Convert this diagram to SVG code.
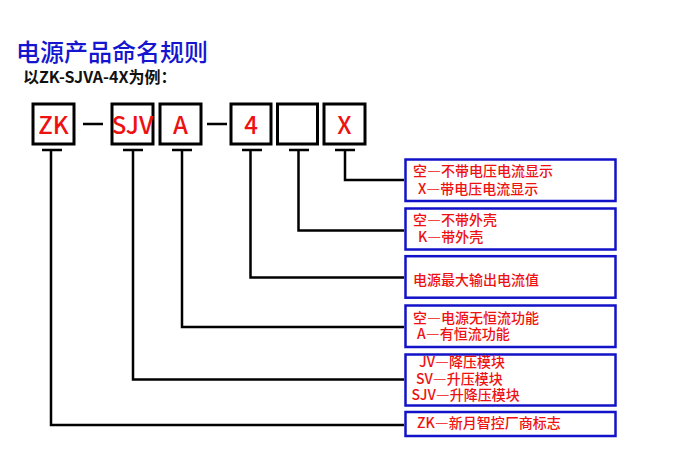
<svg xmlns="http://www.w3.org/2000/svg" width="682" height="462" viewBox="0 0 682 462" xml:lang="zh-CN" lang="zh-CN">
<style>
.t{font-family:"Noto Sans CJK SC","Noto Sans",sans-serif}
.title{font-size:24px;fill:#1515d0;font-weight:500}
.sub{font-size:16px;fill:#111;font-weight:bold}
.code{font-size:24px;fill:#ee1111;text-anchor:middle;font-weight:500}
.cb{fill:#fff;stroke:#000;stroke-width:3}
.db{fill:#fff;stroke:#1212c8;stroke-width:2.5}
.dt{font-size:14px;fill:#ee1111;font-weight:500}
.dash{font-feature-settings:"fwid"}
.ln{fill:none;stroke:#000;stroke-width:2.5}
</style>
<rect width="682" height="462" fill="#fff"/>
<text class="t title" x="16" y="61">电源产品命名规则</text>
<text class="t sub" x="23" y="83">以ZK-SJVA-4X为例：</text>

<g id="code-zk"><rect class="cb" x="33" y="104" width="41" height="40"/><text class="t code" x="53.5" y="134">ZK</text></g>
<g id="code-sjv"><rect class="cb" x="112" y="104" width="41" height="40"/><text class="t code" x="132.5" y="134">SJV</text></g>
<g id="code-a"><rect class="cb" x="160" y="104" width="41" height="40"/><text class="t code" x="180.5" y="134">A</text></g>
<g id="code-4"><rect class="cb" x="231" y="104" width="40" height="40"/><text class="t code" x="251" y="134">4</text></g>
<g id="code-empty"><rect class="cb" x="277.5" y="104" width="40" height="40"/></g>
<g id="code-x"><rect class="cb" x="324" y="104" width="41" height="40"/><text class="t code" x="344.5" y="134">X</text></g>

<g id="desc-x"><rect class="db" x="405.5" y="159.5" width="210" height="41.5"/><text class="t dt" x="413" y="175.5">空<tspan class="dash">—</tspan>不带电压电流显示</text><text class="t dt" x="418" y="193.5">X<tspan class="dash">—</tspan>带电压电流显示</text></g>
<g id="desc-k"><rect class="db" x="405.5" y="208.5" width="210" height="41"/><text class="t dt" x="413" y="224.5">空<tspan class="dash">—</tspan>不带外壳</text><text class="t dt" x="418" y="241.5">K<tspan class="dash">—</tspan>带外壳</text></g>
<g id="desc-4"><rect class="db" x="405.5" y="256.2" width="210" height="41.5"/><text class="t dt" x="413" y="284.5">电源最大输出电流值</text></g>
<g id="desc-a"><rect class="db" x="405.5" y="305.5" width="210" height="41.5"/><text class="t dt" x="413" y="322.5">空<tspan class="dash">—</tspan>电源无恒流功能</text><text class="t dt" x="417" y="339">A<tspan class="dash">—</tspan>有恒流功能</text></g>
<g id="desc-sjv"><rect class="db" x="405.5" y="354.5" width="210" height="51"/><text class="t dt" x="419" y="366.5">JV<tspan class="dash">—</tspan>降压模块</text><text class="t dt" x="416" y="383.5">SV<tspan class="dash">—</tspan>升压模块</text><text class="t dt" x="411.5" y="400">SJV<tspan class="dash">—</tspan>升降压模块</text></g>
<g id="desc-zk"><rect class="db" x="405.5" y="412" width="210" height="24"/><text class="t dt" x="417" y="428">ZK<tspan class="dash">—</tspan>新月智控厂商标志</text></g>

<g id="connectors">
<path class="ln" d="M83 124H103M207 124H227"/>
<path class="ln" d="M42 150H62M123 150H143M172 150H192M242 150H262M289 150H309M335 150H355"/>
<path class="ln" d="M345 150V180H404"/>
<path class="ln" d="M298.5 150V230.5H404"/>
<path class="ln" d="M250.5 150V277.5H404"/>
<path class="ln" d="M182 150V327H404"/>
<path class="ln" d="M133 150V379.5H404"/>
<path class="ln" d="M51 150V425H404"/>
</g>
</svg>
